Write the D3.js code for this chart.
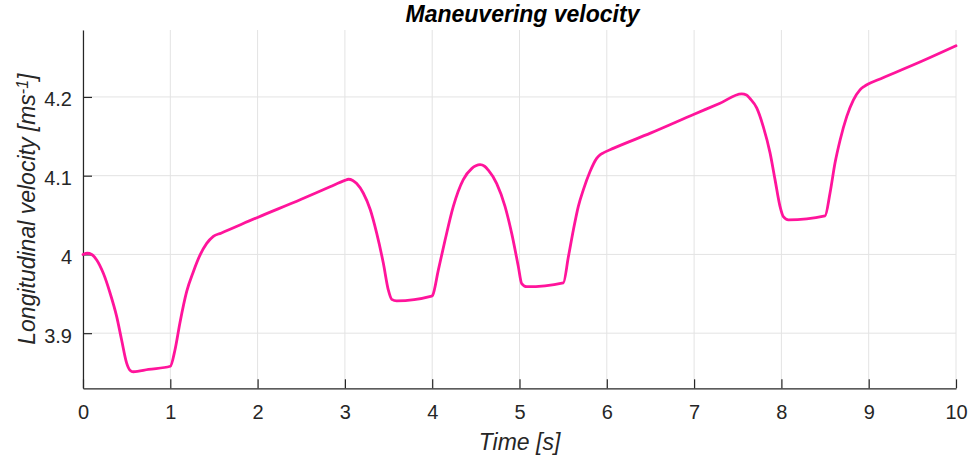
<!DOCTYPE html>
<html>
<head>
<meta charset="utf-8">
<script src="https://cdn.jsdelivr.net/npm/d3@7"></script>
<style>
  html, body { margin: 0; padding: 0; background: #fff; }
  svg { display: block; font-family: "Liberation Sans", Arial, Helvetica, sans-serif; }
</style>
</head>
<body>
<svg id="chart" width="970" height="463"></svg>
<script>
// Sampled longitudinal velocity trace
const time = [
  0, 0.05, 0.1, 0.157, 0.233, 0.31, 0.386, 0.443, 0.5, 0.538, 0.576, 0.75,
  1.0, 1.054, 1.11, 1.188, 1.264, 1.34, 1.417, 1.493, 1.58, 2.0, 2.5, 2.83, 3.0,
  3.04, 3.09, 3.135, 3.21, 3.29, 3.364, 3.44, 3.497, 3.536, 3.593, 3.994,
  4.005, 4.07, 4.147, 4.242, 4.356, 4.452, 4.5, 4.548, 4.6, 4.643, 4.739, 4.834, 4.91, 4.986, 5.025, 5.082, 5.502,
  5.56, 5.617, 5.674, 5.731, 5.807, 5.884, 5.93, 5.96, 6.08, 6.5, 7.0, 7.297, 7.545,
  7.6, 7.64, 7.717, 7.793, 7.87, 7.927, 7.984, 8.022, 8.08, 8.5,
  8.557, 8.614, 8.672, 8.748, 8.824, 8.9, 8.95, 8.995, 9.1, 9.6, 10
];
const velocity = [
  4.0, 4.0015, 4.0, 3.993, 3.976, 3.951, 3.921, 3.891, 3.862, 3.853, 3.851, 3.854,
  3.858, 3.879, 3.913, 3.953, 3.978, 3.999, 4.014, 4.023, 4.027, 4.047, 4.070, 4.086, 4.094,
  4.0955, 4.094, 4.090, 4.078, 4.057, 4.027, 3.989, 3.955, 3.943, 3.941, 3.947,
  3.948, 3.980, 4.018, 4.061, 4.095, 4.109, 4.1125, 4.114, 4.112, 4.107, 4.090, 4.061, 4.027, 3.985, 3.963, 3.959, 3.964,
  3.997, 4.031, 4.061, 4.082, 4.105, 4.122, 4.127, 4.129, 4.135, 4.154, 4.178, 4.192, 4.204,
  4.2025, 4.198, 4.186, 4.162, 4.129, 4.095, 4.061, 4.048, 4.044, 4.049,
  4.078, 4.116, 4.145, 4.175, 4.196, 4.209, 4.2135, 4.2165, 4.2215, 4.245, 4.265
];
const xTicks = [0, 1, 2, 3, 4, 5, 6, 7, 8, 9, 10];
const yTicks = [3.9, 4.0, 4.1, 4.2];
const yTickLabels = ["3.9", "4", "4.1", "4.2"];

const svg = d3.select("#chart");
const margin = { left: 83, right: 14, top: 30, bottom: 74.7 };
const W = 970, H = 463;

const x = d3.scaleLinear().domain([0, 10]).range([margin.left, W - margin.right]);
const y = d3.scaleLinear().domain([3.830, 4.285]).range([H - margin.bottom, margin.top]);

const axisColor = "#262626";
const gridColor = "#e3e3e3";

// grid
const grid = svg.append("g");
grid.selectAll("line.gx").data(xTicks).join("line")
  .attr("x1", d => x(d)).attr("x2", d => x(d))
  .attr("y1", y.range()[0]).attr("y2", y.range()[1])
  .attr("stroke", gridColor).attr("stroke-width", 1);
grid.selectAll("line.gy").data(yTicks).join("line")
  .attr("x1", x.range()[0]).attr("x2", x.range()[1])
  .attr("y1", d => y(d)).attr("y2", d => y(d))
  .attr("stroke", gridColor).attr("stroke-width", 1);

// axes with inward ticks
const xAxis = d3.axisBottom(x).tickValues(xTicks).tickFormat(d3.format("d"))
  .tickSizeInner(-9).tickSizeOuter(0).tickPadding(17);
const gx = svg.append("g").attr("transform", `translate(0,${y.range()[0]})`).call(xAxis);

const yAxis = d3.axisLeft(y).tickValues(yTicks).tickFormat((d, i) => yTickLabels[i])
  .tickSizeInner(-9).tickSizeOuter(0).tickPadding(11);
const gy = svg.append("g").attr("transform", `translate(${x.range()[0]},0)`).call(yAxis);

[gx, gy].forEach(g => {
  g.select(".domain").attr("stroke", axisColor).attr("stroke-width", 1.2);
  g.selectAll(".tick line").attr("stroke", axisColor).attr("stroke-width", 1.2);
  g.selectAll(".tick text").attr("fill", axisColor)
    .style("font-size", "20px").style("font-family", "Liberation Sans, Arial, sans-serif");
});
gy.selectAll(".tick text").attr("dy", "0.45em");

// velocity trace
const line = d3.line()
  .x((d, i) => x(time[i]))
  .y(d => y(d))
  .curve(d3.curveMonotoneX);
svg.append("path")
  .datum(velocity)
  .attr("d", line)
  .attr("fill", "none")
  .attr("stroke", "#ff149b")
  .attr("stroke-width", 2.8)
  .attr("stroke-linejoin", "round")
  .attr("stroke-linecap", "round");

// title
svg.append("text")
  .attr("x", (x.range()[0] + x.range()[1]) / 2 + 3)
  .attr("y", 22)
  .attr("text-anchor", "middle")
  .style("font-size", "23px")
  .style("font-weight", "bold")
  .style("font-style", "italic")
  .attr("fill", "#000")
  .text("Maneuvering velocity");

// x label
svg.append("text")
  .attr("x", (x.range()[0] + x.range()[1]) / 2)
  .attr("y", 450)
  .attr("text-anchor", "middle")
  .style("font-size", "23px")
  .style("font-style", "italic")
  .attr("fill", axisColor)
  .text("Time [s]");

// y label with superscript unit
const yl = svg.append("text")
  .attr("transform", `translate(35,${(y.range()[0] + y.range()[1]) / 2}) rotate(-90)`)
  .attr("text-anchor", "middle")
  .style("font-size", "23px")
  .style("font-style", "italic")
  .attr("fill", axisColor);
yl.append("tspan").text("Longitudinal velocity [ms");
yl.append("tspan").attr("dy", "-0.45em").style("font-size", "16px").text("-1");
yl.append("tspan").attr("dy", "0.32em").text("]");
</script>
</body>
</html>
